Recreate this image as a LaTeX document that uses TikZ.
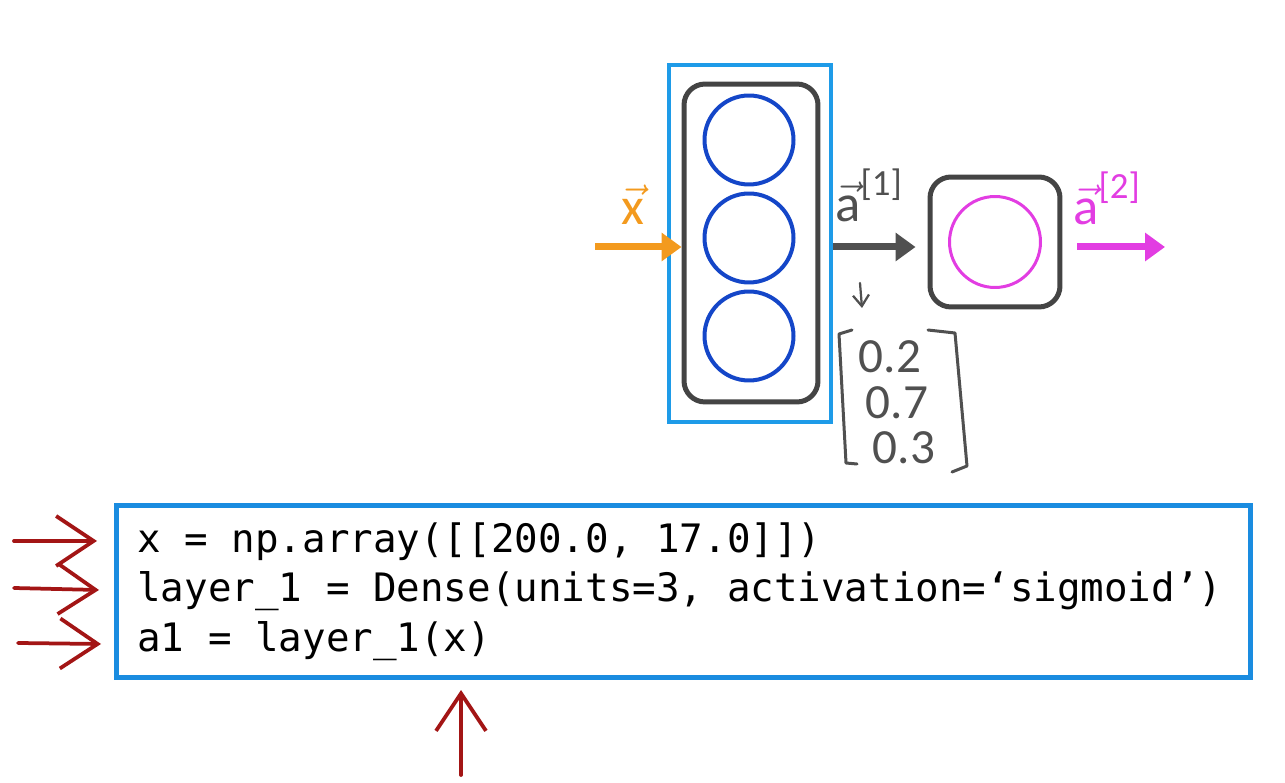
\RequirePackage{fix-cm}
\documentclass[tikz,border=0pt]{standalone}
\usepackage{amsmath}
\usepackage{fontspec}
\setmainfont{Carlito}
\newfontfamily\codefont{DejaVu Sans Mono}
\usetikzlibrary{arrows.meta}

\definecolor{boxblue}{HTML}{1E9BE8}
\definecolor{codeblue}{HTML}{1A8CE0}
\definecolor{neuronblue}{HTML}{1446C8}
\definecolor{boxgray}{HTML}{444444}
\definecolor{labelgray}{HTML}{505050}
\definecolor{xorange}{HTML}{F39A1E}
\definecolor{outmagenta}{HTML}{E23DE2}
\definecolor{penred}{HTML}{A31515}

\begin{document}
\begin{tikzpicture}[
    x=0.02cm, y=-0.02cm,
    >=Stealth,
    layerbox/.style={draw=boxblue, line width=0.08cm, minimum width=3.26cm, minimum height=7.14cm, inner sep=0pt},
    unitbox/.style={draw=boxgray, line width=0.1cm, rounded corners=0.42cm, inner sep=0pt},
    neuron/.style={circle, draw=neuronblue, line width=0.08cm, minimum size=1.78cm, inner sep=0pt},
    flow/.style={line width=0.14cm, -{Triangle[length=0.4cm, width=0.55cm]}},
    vlabel/.style={font=\fontsize{30}{32}\selectfont, inner sep=0pt},
    value/.style={font=\fontsize{28}{30}\selectfont, text=labelgray, inner sep=0pt},
    bracket/.style={draw=labelgray, line width=0.06cm, line join=round, line cap=round},
    pen/.style={draw=penred, line width=0.075cm, line cap=round, -{Straight Barb[length=0.75cm, width=1cm]}},
    codeline/.style={font=\codefont\fontsize{22.3}{26}\selectfont, anchor=base west, inner sep=0pt}
]
    \useasboundingbox (0,0) rectangle (1285,783);

    % first layer
    \node[layerbox] (layer1) at (750,243.5) {};
    \node[unitbox, minimum width=2.68cm, minimum height=6.36cm] (units1) at (751,243) {};
    \node[neuron] (n1) at (749,140) {};
    \node[neuron] (n2) at (749,238) {};
    \node[neuron] (n3) at (749,336) {};

    % second layer
    \node[unitbox, minimum width=2.6cm, minimum height=2.6cm] (units2) at (995,242) {};
    \node[circle, draw=outmagenta, line width=0.06cm, minimum size=1.82cm, inner sep=0pt] (n4) at (995,242) {};

    % input and outputs
    \coordinate (xin) at (595,247);
    \coordinate (aout) at (1165,247);
    \draw[flow, draw=xorange, fill=xorange] (xin) -- (units1.west |- xin);
    \draw[flow, draw=labelgray, fill=labelgray] (layer1.east |- xin) -- ([xshift=-0.24cm]units2.west |- xin);
    \draw[flow, draw=outmagenta, fill=outmagenta] ([xshift=0.3cm]units2.east |- aout) -- (aout);

    \node[vlabel, text=xorange, anchor=base] (xlab) at (633,225) {$\vec{\text{x}}$};
    \node[vlabel, text=labelgray, anchor=base west] (a1lab) at (835,222) {$\vec{\text{a}}^{\text{[1]}}$};
    \node[vlabel, text=outmagenta, anchor=base west] (a2lab) at (1073,225) {$\vec{\text{a}}^{\text{[2]}}$};

    % values of a1
    \coordinate (tick1) at (860,283);
    \coordinate (tick2) at (862,308);
    \draw[draw=labelgray, line width=0.045cm, line cap=round, -{Straight Barb[length=0.22cm, width=0.32cm]}] (tick1) -- (tick2);
    \draw[bracket] (852,330) -- (839,334) -- (846,463) -- (857,464);
    \draw[bracket] (928,330) -- (955,333) -- (967,466) -- (952,472);
    \node[value] (v1) at (890,357) {0.2};
    \node[value] (v2) at (897,403) {0.7};
    \node[value] (v3) at (904,448) {0.3};

    % code
    \node[draw=codeblue, line width=0.1cm, minimum width=22.68cm, minimum height=3.44cm, inner sep=0pt] (code) at (683.5,591.5) {};
    \node[codeline] (line1) at (137,553) {x = np.array([[200.0, 17.0]])};
    \node[codeline] (line2) at (137,602) {layer\_1 = Dense(units=3, activation=‘sigmoid’)};
    \node[codeline] (line3) at (137,651) {a1 = layer\_1(x)};

    % pen marks
    \coordinate (p1a) at (14,541);
    \coordinate (p1b) at (97,541);
    \coordinate (p2a) at (14,588);
    \coordinate (p2b) at (99,590);
    \coordinate (p3a) at (18,643);
    \coordinate (p3b) at (101,644);
    \coordinate (p4a) at (461,775);
    \coordinate (p4b) at (461,690);
    \draw[pen] (p1a) -- (p1b);
    \draw[pen] (p2a) -- (p2b);
    \draw[pen] (p3a) -- (p3b);
    \draw[pen] (p4a) -- (p4b);
\end{tikzpicture}
\end{document}
